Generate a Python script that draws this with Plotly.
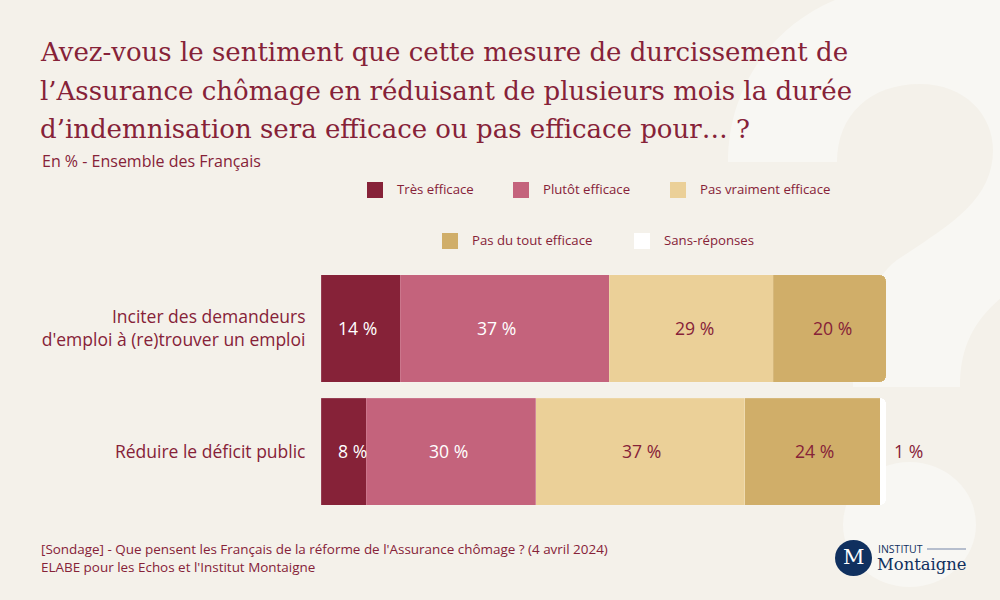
import plotly.graph_objects as go

categories = ["Inciter des demandeurs<br>d'emploi à (re)trouver un emploi", "Réduire le déficit public"]
series_names = ["Très efficace", "Plutôt efficace", "Pas vraiment efficace", "Pas du tout efficace", "Sans-réponses"]
tres_efficace = [14, 8]
plutot_efficace = [37, 30]
pas_vraiment = [29, 37]
pas_du_tout = [20, 24]
sans_reponses = [None, 1]
series_values = [tres_efficace, plutot_efficace, pas_vraiment, pas_du_tout, sans_reponses]
couleurs = ["#862238", "#c4637c", "#ebd098", "#d0ae69", "#ffffff"]
label_colors = ["#ffffff", "#ffffff", "#862238", "#862238", "#862238"]

BG = "#f4f1ea"
LIGHT = "#f8f7f3"
RED = "#862238"
NAVY = "#10305f"
W, H = 1000, 600
L, R, T, B = 321, 114, 267, 87

title_lines = [
    "Avez-vous le sentiment que cette mesure de durcissement de",
    "l’Assurance chômage en réduisant de plusieurs mois la durée",
    "d’indemnisation sera efficace ou pas efficace pour… ?",
]
subtitle = "En % - Ensemble des Français"
source_lines = [
    "[Sondage] - Que pensent les Français de la réforme de l'Assurance chômage ? (4 avril 2024)",
    "ELABE pour les Echos et l'Institut Montaigne",
]


# pixels van de pagina naar paper-coordinaten
def px(x):
    return (x - L) / (W - L - R)


def py(y):
    return 1 - (y - T) / (H - T - B)


def text(x, y, s, size, color=RED, family="Open Sans", anchor="left"):
    return dict(
        x=px(x), y=py(y), xref="paper", yref="paper", text=s, showarrow=False,
        xanchor=anchor, yanchor="middle", align=anchor,
        font=dict(family=family, size=size, color=color),
    )


fig = go.Figure()

for name, values, kleur in zip(series_names, series_values, couleurs):
    fig.add_trace(go.Bar(
        y=categories,
        x=values,
        name=name,
        orientation="h",
        marker=dict(color=kleur, line=dict(color="rgba(255,255,255,0.25)", width=0.5)),
        hoverinfo="x+name",
    ))

annotations = []

# labels op de balken, kleine verschuiving per segment zoals in het origineel
label_shifts = [[-3, -8, 3, 3, 0], [9, -2, 1, 2, 25]]
for row, cat in enumerate(categories):
    start = 0
    for s, values in enumerate(series_values):
        v = values[row]
        if v is None:
            continue
        annotations.append(dict(
            x=start + v / 2, y=cat, xref="x", yref="y", text=f"{v} %", showarrow=False,
            xshift=label_shifts[row][s], yshift=1,
            font=dict(family="Open Sans", size=17.6, color=label_colors[s]),
        ))
        start += v

for i, line in enumerate(title_lines):
    annotations.append(text(38, 52 + i * 38.5, line, 26, family="DejaVu Serif"))
annotations.append(text(40, 161, subtitle, 16))
for i, line in enumerate(source_lines):
    annotations.append(text(39, 548.5 + i * 18, line, 13.45))

# legenda handmatig: twee gecentreerde rijen
legend_pos = [(367, 190), (513, 190), (670, 190), (442, 241), (634, 241)]
shapes = []
for name, kleur, (lx, ly) in zip(series_names, couleurs, legend_pos):
    shapes.append(dict(
        type="rect", xref="paper", yref="paper", layer="above",
        x0=px(lx), x1=px(lx + 16), y0=py(ly - 8), y1=py(ly + 8),
        fillcolor=kleur, line=dict(width=0),
    ))
    annotations.append(text(lx + 28, ly - 1.5, name, 13.2))

# achtergrond: groot vraagteken
vraagteken = (
    f"M {px(840)},{py(-2)} C {px(770)},{py(25)} {px(728)},{py(90)} {px(728)},{py(162)} "
    f"L {px(837)},{py(162)} C {px(837)},{py(115)} {px(870)},{py(84)} {px(920)},{py(84)} "
    f"C {px(965)},{py(84)} {px(993)},{py(115)} {px(993)},{py(150)} "
    f"C {px(993)},{py(200)} {px(950)},{py(225)} {px(897)},{py(260)} "
    f"C {px(870)},{py(280)} {px(853)},{py(330)} {px(853)},{py(387)} "
    f"L {px(960)},{py(387)} C {px(960)},{py(345)} {px(975)},{py(320)} {px(1002)},{py(297)} "
    f"L {px(1002)},{py(-2)} Z"
)
shapes.append(dict(type="path", xref="paper", yref="paper", layer="below", path=vraagteken,
                   fillcolor=LIGHT, line=dict(width=0)))
shapes.append(dict(type="circle", xref="paper", yref="paper", layer="below",
                   x0=px(843), x1=px(976), y0=py(462), y1=py(587), fillcolor=LIGHT, line=dict(width=0)))

# logo
shapes.append(dict(type="circle", xref="paper", yref="paper", layer="above",
                   x0=px(835), x1=px(872), y0=py(540), y1=py(576), fillcolor=NAVY, line=dict(width=0)))
shapes.append(dict(type="line", xref="paper", yref="paper", layer="above",
                   x0=px(927), x1=px(966), y0=py(549), y1=py(549), line=dict(color="#a0abc0", width=1.5)))
annotations.append(text(853.5, 557, "M", 21, color="#ffffff", family="DejaVu Serif", anchor="center"))
annotations.append(text(876, 549, "INSTITUT", 10.5, color=NAVY))
annotations.append(text(875, 564, "Montaigne", 16.4, color=NAVY, family="DejaVu Serif"))

fig.update_layout(
    barmode="stack",
    barcornerradius=6,
    bargap=0.13,
    width=W,
    height=H,
    margin=dict(l=L, r=R, t=T, b=B, autoexpand=False),
    paper_bgcolor=BG,
    plot_bgcolor="rgba(0,0,0,0)",
    showlegend=False,
    shapes=shapes,
    annotations=annotations,
    xaxis=dict(range=[0, 100], visible=False, fixedrange=True),
    yaxis=dict(
        autorange="reversed", showline=False, showgrid=False, ticks="outside", ticklen=11,
        tickcolor="rgba(0,0,0,0)", tickfont=dict(family="Open Sans", size=17.5, color=RED),
        fixedrange=True,
    ),
)

fig.write_html("out.html", config={"displayModeBar": False},
               post_script="document.body.style.margin='0';")
